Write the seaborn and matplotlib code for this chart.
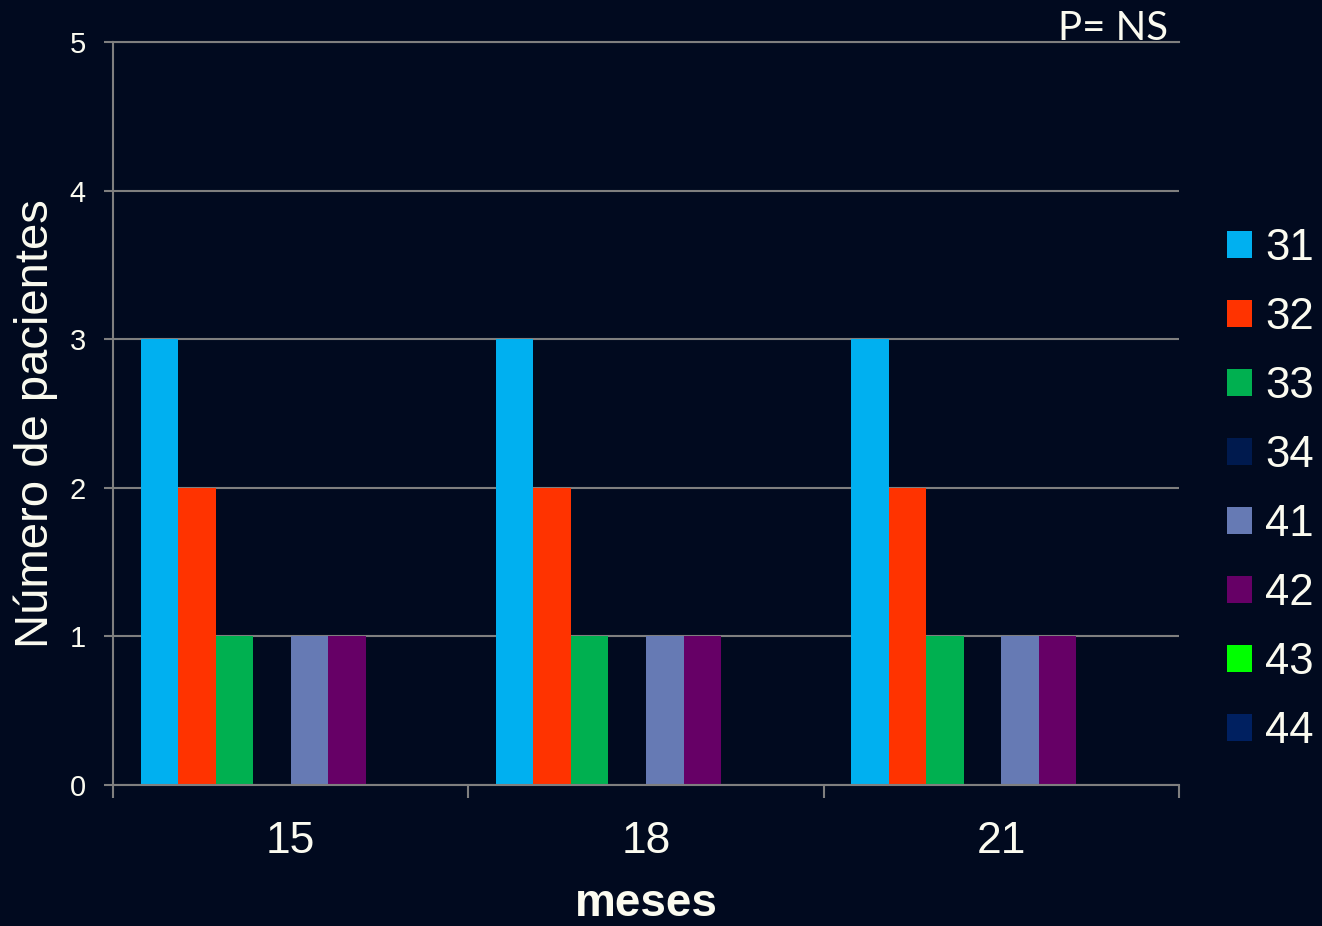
import matplotlib
matplotlib.use("Agg")
import matplotlib.pyplot as plt
import seaborn as sns
import pandas as pd

# Follow-up month groups and the patient-count series shown for each
meses = ["15", "18", "21"]
series = ["31", "32", "33", "34", "41", "42", "43", "44"]
valores_15 = [3, 2, 1, 0, 1, 1, 0, 0]
valores_18 = [3, 2, 1, 0, 1, 1, 0, 0]
valores_21 = [3, 2, 1, 0, 1, 1, 0, 0]
colores = ["#00B0F0", "#FF3300", "#00B050", "#001A4E",
           "#667AB4", "#660066", "#00FF00", "#002060"]

bg = "#010a1f"
txt = "#FBFBF0"
gridc = "#7f7f7f"

rows = []
for mes, vals in zip(meses, [valores_15, valores_18, valores_21]):
    for s, v in zip(series, vals):
        rows.append({"meses": mes, "serie": s, "pacientes": v})
df = pd.DataFrame(rows)

sns.set_theme(style="dark")
plt.rcParams["font.family"] = ["Liberation Sans", "DejaVu Sans"]

fig = plt.figure(figsize=(13.22, 9.26), dpi=100, facecolor=bg)
ax = fig.add_axes([113 / 1322, 1 - 785 / 926, (1179 - 113) / 1322, (785 - 42) / 926])
ax.set_facecolor(bg)

sns.barplot(data=df, x="meses", y="pacientes", hue="serie", order=meses,
            hue_order=series, palette=colores, width=0.845, gap=0,
            saturation=1, linewidth=0, ax=ax, legend=True)

ax.set_ylim(0, 5)
ax.set_xlim(-0.5, 2.5)
ax.set_yticks(range(6))
ax.yaxis.grid(True, color=gridc, linewidth=1.5)
ax.xaxis.grid(False)
ax.set_axisbelow(True)

# Category boundaries carry the tick marks, centers carry the labels
ax.set_xticks([-0.5, 0.5, 1.5, 2.5])
ax.set_xticklabels([])
ax.set_xticks([0, 1, 2], minor=True)
ax.set_xticklabels(meses, minor=True)
ax.tick_params(axis="x", which="major", length=9, width=1.5, color=gridc, direction="out", bottom=True)
ax.tick_params(axis="x", which="minor", length=0, pad=26, labelsize=32, labelcolor=txt)
ax.tick_params(axis="y", length=6.5, width=1.5, color=gridc, direction="out", left=True,
               pad=13, labelsize=21, labelcolor=txt)

for side in ["right"]:
    ax.spines[side].set_visible(False)
for side in ["left", "bottom", "top"]:
    ax.spines[side].set_visible(True)
    ax.spines[side].set_color(gridc)
    ax.spines[side].set_linewidth(1.5)

ax.set_xlabel("meses", fontsize=33, fontweight="bold", color=txt, labelpad=14)
ax.set_ylabel("Número de pacientes", fontsize=34, color=txt)
ax.yaxis.set_label_coords(-0.052, 0.486)

ax.text(0.9897, 1.003, "P= NS", transform=ax.transAxes, ha="right", va="baseline",
        fontsize=29, color=txt, family=["Lato", "DejaVu Sans"])

handles, labels = ax.get_legend_handles_labels()
ax.get_legend().remove()
leg = fig.legend(handles, labels, loc="center left", bbox_to_anchor=(1209 / 1322, 1 - 490 / 926),
                 frameon=False, fontsize=31.5, handlelength=0.58, handleheight=0.58,
                 handletextpad=0.3, labelspacing=0.64, borderaxespad=0)
for t in leg.get_texts():
    t.set_color(txt)

fig.savefig("out.png", dpi=100, facecolor=bg)
